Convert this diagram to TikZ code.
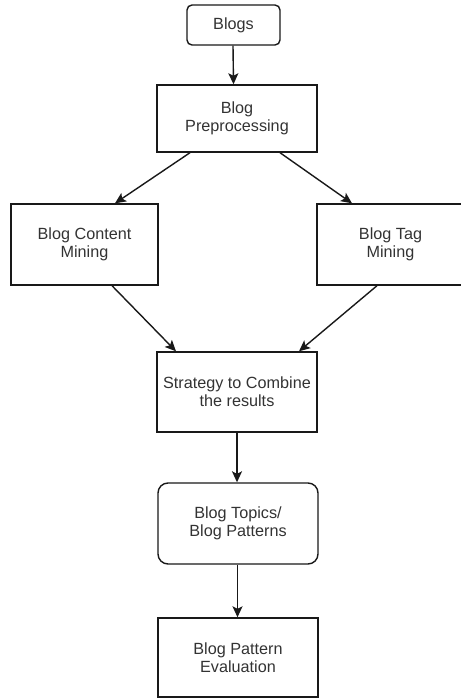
\documentclass[tikz,border=0pt]{standalone}
\usepackage{fontspec}
\setmainfont{Liberation Sans}
\usetikzlibrary{arrows.meta,calc}
\begin{document}
\begin{tikzpicture}[x=1pt,y=-1pt,
  box/.style={draw=black!90, line width=1.4pt, align=center, inner sep=0pt,
    text=black!80, font=\fontsize{16.2}{18}\selectfont},
  roundbox/.style={box, rounded corners=#1},
  flow/.style={draw=black!90, line width=1.4pt, -{Stealth[length=11pt,width=10pt,inset=2.5pt]}}]
\useasboundingbox (0,0) rectangle (460,698);

\node[roundbox=5pt, minimum width=93pt, minimum height=40pt] (blogs) at (233.5,25) {Blogs};
\node[box, minimum width=160pt, minimum height=67pt] (prep) at (237,118.5) {Blog\\Preprocessing};
\node[box, minimum width=147pt, minimum height=81pt] (content) at (84.5,244.5) {Blog Content\\Mining};
\node[box, minimum width=147pt, minimum height=81pt] (tag) at (390.5,244.5) {Blog Tag\\Mining};
\node[box, minimum width=160pt, minimum height=80pt] (combine) at (237,392) {Strategy to Combine\\the results};
\node[roundbox=10pt, minimum width=160pt, minimum height=81pt] (topics) at (238,523.5) {Blog Topics/\\Blog Patterns};
\node[box, minimum width=160pt, minimum height=79pt] (eval) at (238,657.5) {Blog Pattern\\Evaluation};

\draw[flow] ([xshift=-0.5pt]blogs.south) -- (blogs.south |- prep.north);
\draw[flow] ([xshift=-47pt]prep.south) -- ([xshift=30.5pt]content.north);
\draw[flow] ([xshift=43pt]prep.south) -- ([xshift=-38.5pt]tag.north);
\draw[flow] ([xshift=27.5pt]content.south) -- ([xshift=-61pt]combine.north);
\draw[flow] ([xshift=-13.5pt]tag.south) -- ([xshift=62pt]combine.north);
\draw[flow] (combine.south) -- (combine.south |- topics.north);
\draw[flow] ([xshift=-0.5pt]topics.south) -- ([xshift=-0.5pt]topics.south |- eval.north);
\end{tikzpicture}
\end{document}
